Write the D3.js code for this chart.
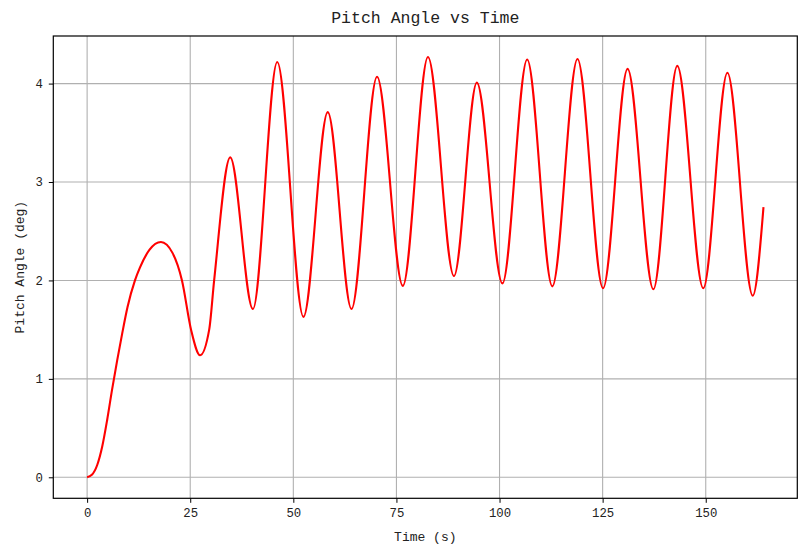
<!DOCTYPE html>
<html>
<head>
<meta charset="utf-8">
<script src="https://cdn.jsdelivr.net/npm/d3@7"></script>
<style>
  html, body { margin: 0; padding: 0; background: #fff; }
  svg { display: block; }
  text { font-family: "Liberation Mono", "DejaVu Sans Mono", monospace; fill: #222; }
</style>
</head>
<body>
<svg id="chart" width="809" height="555"></svg>
<script>
// ---- data ----
const timeS = [0, 1.15, 2.45, 3.65, 4.85, 6.05, 7.3, 8.5, 9.8, 11.6, 12.8, 15.1, 17.9, 20.7, 23.0, 25.2, 27.4, 29.6, 30.8,
  34.7, 40.2, 46.1, 52.45, 58.35, 64.1, 70.3, 76.55, 82.65, 88.95, 94.5, 100.7, 106.7, 112.8,
  118.9, 125.1, 131.05, 137.3, 143.1, 149.4, 155.25, 161.4, 164.0];
const pitchDeg = [0, 0.025, 0.125, 0.31, 0.58, 0.89, 1.19, 1.46, 1.73, 2.0, 2.13, 2.31, 2.39, 2.28, 2.0, 1.5, 1.24, 1.5, 2.0,
  3.25, 1.71, 4.22, 1.63, 3.71, 1.71, 4.07, 1.945, 4.27, 2.045, 4.01, 1.97, 4.245, 1.94,
  4.25, 1.92, 4.15, 1.91, 4.18, 1.92, 4.11, 1.845, 2.745];
const xTicks = [0, 25, 50, 75, 100, 125, 150];
const yTicks = [0, 1, 2, 3, 4];
const titleText = "Pitch Angle vs Time";
const xLabel = "Time (s)";
const yLabel = "Pitch Angle (deg)";

// ---- layout ----
const svg = d3.select("#chart");
const L = 53.3, R = 797.3, T = 36, B = 498.3;

const xMin = d3.min(timeS), xMax = d3.max(timeS);
const yMin = d3.min(pitchDeg), yMax = d3.max(pitchDeg);
const xPad = (xMax - xMin) * 0.05, yPad = (yMax - yMin) * 0.05;
const x = d3.scaleLinear().domain([xMin - xPad, xMax + xPad]).range([L, R]);
const y = d3.scaleLinear().domain([yMin - yPad, yMax + yPad]).range([B, T]);

// grid
const grid = svg.append("g");
grid.selectAll("line.gx").data(xTicks).join("line")
  .attr("x1", d => x(d)).attr("x2", d => x(d)).attr("y1", T).attr("y2", B)
  .attr("stroke", "#b0b0b0").attr("stroke-width", 1.1);
grid.selectAll("line.gy").data(yTicks).join("line")
  .attr("y1", d => y(d)).attr("y2", d => y(d)).attr("x1", L).attr("x2", R)
  .attr("stroke", "#b0b0b0").attr("stroke-width", 1.1);

// line
const data = timeS.map((t, i) => [t, pitchDeg[i]]);
svg.append("path").datum(data)
  .attr("fill", "none").attr("stroke", "#ff0000").attr("stroke-width", 2.1)
  .attr("stroke-linejoin", "round")
  .attr("d", d3.line().x(d => x(d[0])).y(d => y(d[1])).curve(d3.curveMonotoneX));

// axes
const xAxis = svg.append("g").attr("transform", `translate(0,${B})`)
  .call(d3.axisBottom(x).tickValues(xTicks).tickSize(4.5).tickPadding(5).tickFormat(d3.format("d")));
const yAxis = svg.append("g").attr("transform", `translate(${L},0)`)
  .call(d3.axisLeft(y).tickValues(yTicks).tickSize(4.5).tickPadding(6).tickFormat(d3.format("d")));
[xAxis, yAxis].forEach(g => {
  g.select(".domain").remove();
  g.selectAll(".tick line").attr("stroke", "#000").attr("stroke-width", 1);
  g.selectAll(".tick text").attr("font-family", "Liberation Mono").attr("font-size", 12.3).attr("fill", "#222");
});

// frame
svg.append("rect").attr("x", L).attr("y", T).attr("width", R - L).attr("height", B - T)
  .attr("fill", "none").attr("stroke", "#000").attr("stroke-width", 1.2);

// labels
svg.append("text").attr("x", (L + R) / 2).attr("y", 23).attr("text-anchor", "middle")
  .attr("font-size", 16.5).text(titleText);
svg.append("text").attr("x", (L + R) / 2).attr("y", 541).attr("text-anchor", "middle")
  .attr("font-size", 13).text(xLabel);
svg.append("text").attr("transform", `translate(24,${(T + B) / 2}) rotate(-90)`)
  .attr("text-anchor", "middle").attr("font-size", 13).text(yLabel);
</script>
</body>
</html>
